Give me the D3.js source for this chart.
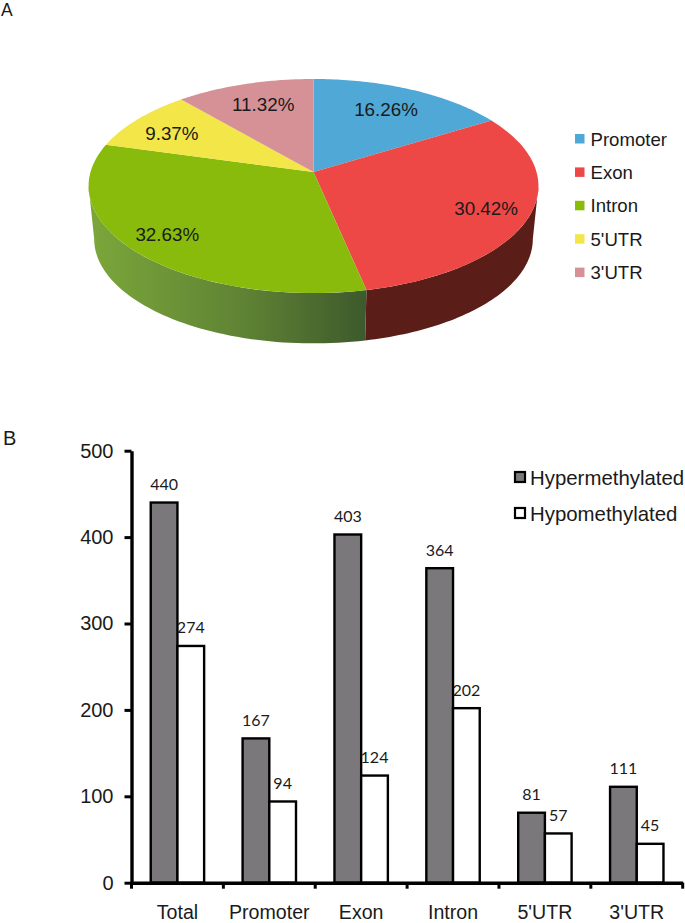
<!DOCTYPE html>
<html>
<head>
<meta charset="utf-8">
<script src="https://cdnjs.cloudflare.com/ajax/libs/d3/7.8.5/d3.min.js"></script>
<style>
  body { margin: 0; background: #fff; }
  svg { display: block; }
  text { font-family: "Liberation Sans", Arial, sans-serif; fill: #1a1a1a; }
  .num { font-family: Lato, sans-serif; font-size: 16px; }
</style>
</head>
<body>
<svg id="chart" width="685" height="923"></svg>
<script>
// Panel A data
const regions = ['Promoter', 'Exon', 'Intron', "5'UTR", "3'UTR"];
const shares = [16.26, 30.42, 32.63, 9.37, 11.32];
const regionColors = ['#4fa8d5', '#ee4846', '#89bb0d', '#f3e648', '#d69197'];

// Panel B data
const barCategories = ['Total', 'Promoter', 'Exon', 'Intron', "5'UTR", "3'UTR"];
const hyper = [440, 167, 403, 364, 81, 111];
const hypo = [274, 94, 124, 202, 57, 45];
const seriesNames = ['Hypermethylated', 'Hypomethylated'];
const yTicks = [0, 100, 200, 300, 400, 500];

const svg = d3.select('#chart');

svg.append('text').attr('x', 1).attr('y', 16).style('font-size', '17.5px').text('A');
svg.append('text').attr('x', 3).attr('y', 445).style('font-size', '20px').text('B');

// ---- 3D pie ----
// the tilted disc is a projective view of a circle, that is why the apex sits above the ellipse centre
const apex = { x: 313.5, y: 172 };
const tilt = 0.131;
const project = (angle, r = 1) => {
  const u = -Math.cos(angle) * r;
  const v = Math.sin(angle) * r;
  const d = 1 - tilt * u;
  return [apex.x + 223 * v / d, apex.y + 105.2 * u / d];
};
// bottom rim is slightly smaller and further down
const projectLow = angle => {
  const p = project(angle);
  return [apex.x + (p[0] - apex.x) * 0.975, 186 + (p[1] - 186) * 0.975 + 53];
};

const slices = d3.pie().sort(null)(shares);
const line = d3.line();
const rim = (a, b, fn) => d3.range(0, 61).map(i => fn(a + (b - a) * i / 60));

const defs = svg.append('defs');
const grad = defs.append('linearGradient').attr('id', 'greenSide')
  .attr('gradientUnits', 'userSpaceOnUse')
  .attr('x1', 92).attr('x2', 366).attr('y1', 0).attr('y2', 0);
grad.append('stop').attr('offset', '0%').attr('stop-color', '#7ba63a');
grad.append('stop').attr('offset', '55%').attr('stop-color', '#5f8334');
grad.append('stop').attr('offset', '100%').attr('stop-color', '#3d5a2c');

const pie = svg.append('g');
const sideFill = { Exon: '#5a1d17', Intron: 'url(#greenSide)' };

// the wall only runs between the two widest points of the disc
const wallFrom = Math.acos(-tilt);
const wallTo = 2 * Math.PI - wallFrom;
const wallPath = d => {
  const a = Math.max(d.startAngle, wallFrom);
  const b = Math.min(d.endAngle, wallTo);
  return line(rim(a, b, project).concat(rim(b, a, projectLow))) + 'Z';
};

// walls first, the top faces cover whatever should not show
pie.selectAll('path.side')
  .data(slices.filter(d => sideFill[regions[d.index]]))
  .enter().append('path')
    .attr('class', 'side')
    .attr('d', wallPath)
    .attr('fill', d => sideFill[regions[d.index]]);

pie.selectAll('path.top')
  .data(slices)
  .enter().append('path')
    .attr('class', 'top')
    .attr('d', d => line([[apex.x, apex.y]].concat(rim(d.startAngle, d.endAngle, project))) + 'Z')
    .attr('fill', d => regionColors[d.index]);

// label spots as radius fraction / angle shift inside each slice
const labelSpots = [[0.74, -0.014], [0.81, 0.01], [0.82, 0.02], [0.773, -0.037], [0.748, 0.02]];
pie.selectAll('text')
  .data(slices)
  .enter().append('text')
    .attr('transform', d => {
      const s = labelSpots[d.index];
      const p = project((d.startAngle + d.endAngle) / 2 + s[1], s[0]);
      return `translate(${p[0]},${p[1]})`;
    })
    .attr('text-anchor', 'middle')
    .attr('dy', '0.36em')
    .style('font-size', '18.8px')
    .text(d => d3.format('.2f')(d.data) + '%');

const pieLegend = svg.append('g').selectAll('g')
  .data(regions)
  .enter().append('g')
    .attr('transform', (d, i) => `translate(575,${139 + i * 33.4})`);
pieLegend.append('rect')
  .attr('x', 0).attr('y', -5).attr('width', 9.5).attr('height', 9.5)
  .attr('fill', (d, i) => regionColors[i]);
pieLegend.append('text')
  .attr('x', 15.5).attr('y', 6.5)
  .style('font-size', '18.6px')
  .text(d => d);

// ---- bar chart ----
const x = d3.scaleBand().domain(barCategories).range([131.5, 682.7]);
const y = d3.scaleLinear().domain([0, 500]).range([882.7, 450.7]);
const barWidth = 26.7;
const center = d => x(d) + x.bandwidth() / 2;

const barRows = barCategories.map((c, i) => ({ c, hyper: hyper[i], hypo: hypo[i] }));

const drawBars = (key, fill, offset) => {
  svg.append('g').selectAll('rect')
    .data(barRows)
    .enter().append('rect')
      .attr('x', d => center(d.c) + offset)
      .attr('y', d => y(d[key]))
      .attr('width', barWidth)
      .attr('height', d => y(0) - y(d[key]))
      .attr('fill', fill)
      .attr('stroke', '#000')
      .attr('stroke-width', 2.4);
  svg.append('g').selectAll('text')
    .data(barRows)
    .enter().append('text')
      .attr('class', 'num')
      .attr('x', d => center(d.c) + offset + barWidth / 2)
      .attr('y', d => y(d[key]) - 12.5)
      .attr('text-anchor', 'middle')
      .text(d => d[key]);
};
drawBars('hyper', '#7a787b', -barWidth);
drawBars('hypo', '#fff', 0);

const yAxis = svg.append('g')
  .attr('transform', `translate(${x.range()[0]},0)`)
  .call(d3.axisLeft(y).tickValues(yTicks).tickSize(7).tickSizeOuter(0).tickPadding(11));
yAxis.select('.domain').attr('stroke', '#000').attr('stroke-width', 3.4);
yAxis.selectAll('.tick line').attr('stroke', '#000').attr('stroke-width', 3);
yAxis.selectAll('text').style('font-size', '20px').style('font-family', '"Liberation Sans", Arial, sans-serif').attr('fill', '#1a1a1a');

const xAxis = svg.append('g')
  .attr('transform', `translate(0,${y(0)})`)
  .call(d3.axisBottom(x).tickSize(0).tickPadding(22));
xAxis.select('.domain').attr('stroke', '#000').attr('stroke-width', 3.4);
xAxis.selectAll('text').style('font-size', '19.6px').style('font-family', '"Liberation Sans", Arial, sans-serif').attr('fill', '#1a1a1a');

// tick marks sit between the categories, not under them
const edges = barCategories.map(d => x(d)).concat(x.range()[1]);
svg.append('g').selectAll('line')
  .data(edges)
  .enter().append('line')
    .attr('x1', d => d).attr('x2', d => d)
    .attr('y1', y(0)).attr('y2', y(0) + 6)
    .attr('stroke', '#000').attr('stroke-width', 3);

const barLegend = svg.append('g').selectAll('g')
  .data(seriesNames)
  .enter().append('g')
    .attr('transform', (d, i) => `translate(515,${477 + i * 36})`);
barLegend.append('rect')
  .attr('x', 0).attr('y', -5).attr('width', 10).attr('height', 10)
  .attr('fill', (d, i) => i === 0 ? '#7a787b' : '#fff')
  .attr('stroke', '#000').attr('stroke-width', 2.2);
barLegend.append('text')
  .attr('x', 15).attr('y', 8)
  .style('font-size', '20.4px')
  .text(d => d);
</script>
</body>
</html>
